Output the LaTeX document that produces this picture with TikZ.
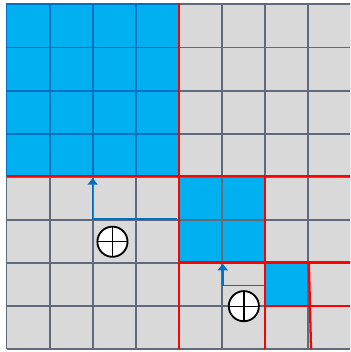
\documentclass[tikz,border=0pt]{standalone}
\usetikzlibrary{arrows.meta}
\definecolor{cellgray}{HTML}{D9D9D9}
\definecolor{linegray}{HTML}{5F6A7D}
\definecolor{cellblue}{HTML}{00B0F0}
\definecolor{lineblue}{HTML}{0070C0}
\definecolor{splitred}{HTML}{FF0000}
\tikzset{
  gridline/.style={linegray, line width=1.3pt},
  blueline/.style={lineblue, line width=1.3pt},
  splitline/.style={splitred, line width=1.5pt},
  moveline/.style={lineblue, line width=1.1pt, -{Triangle[length=1.5mm,width=2.3mm]}},
  sumnode/.style={circle, draw=black, fill=white, line width=1.2pt, minimum size=7mm, inner sep=0pt,
    path picture={\draw[line width=0.9pt]
      (path picture bounding box.north) -- (path picture bounding box.south)
      (path picture bounding box.west) -- (path picture bounding box.east);}},
}
\begin{document}
\begin{tikzpicture}[x=1cm, y=1.0042cm]
\useasboundingbox (-0.151,-0.069) rectangle (7.975,8.069);
\clip (-0.151,-0.069) rectangle (7.975,8.069);

% cells
\fill[cellgray] (0,0) rectangle (8,8);
\fill[cellblue] (0,4) rectangle (4,8);
\fill[cellblue] (4,2) rectangle (6,4);
\fill[cellblue] (6,1) rectangle (7,2);

\draw[gridline] (0,0) grid (8,8);
\draw[blueline] (0,4) grid (4,8);

% splitting lines
\draw[splitline] (4,0) -- (4,8);
\draw[splitline] (0,4) -- (8,4);
\draw[splitline] (4,2) -- (8,2);
\draw[splitline] (6,0) -- (6,4);
\draw[splitline] (6,1) -- (8,1);
\draw[splitline] (7.02,2) -- (7.07,0);

% moves
\coordinate (m1s) at (3.95,3);
\coordinate (m1c) at (2,3);
\coordinate (m1e) at (2,3.95);
\coordinate (m2s) at (6,1.47);
\coordinate (m2c) at (5.02,1.47);
\coordinate (m2e) at (5.02,1.97);
\draw[moveline] (m1s) -- (m1c) -- (m1e);
\draw[moveline] (m2s) -- (m2c) -- (m2e);

\node[sumnode] (sum1) at (2.46,2.48) {};
\node[sumnode] (sum2) at (5.51,0.99) {};
\end{tikzpicture}
\end{document}
